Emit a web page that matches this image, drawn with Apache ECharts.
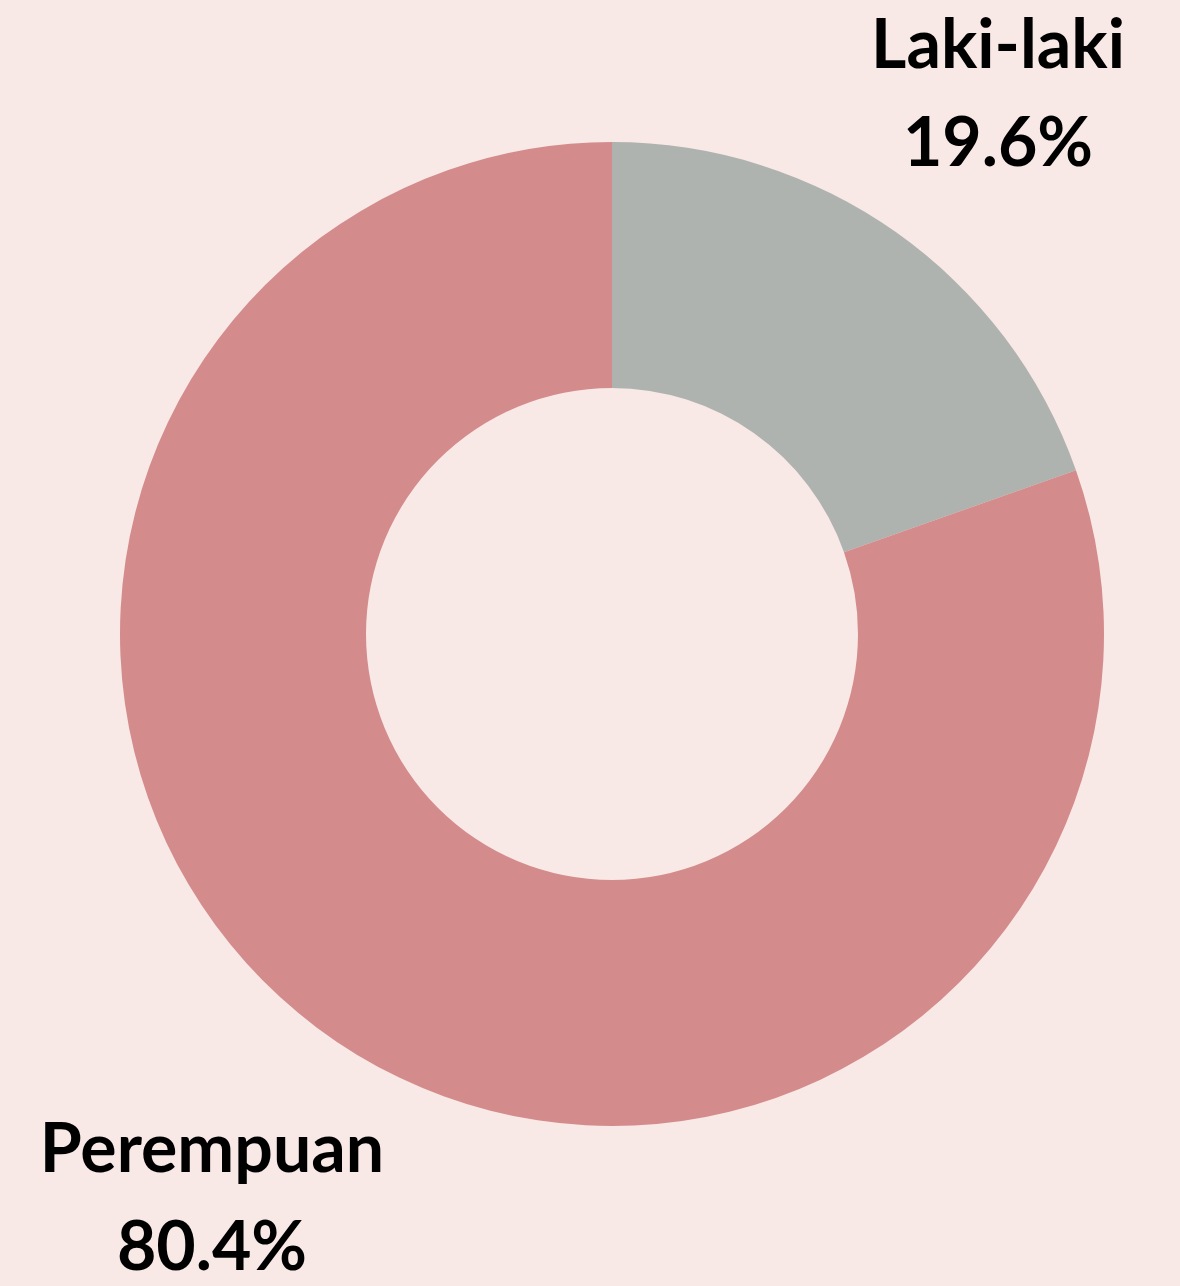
<!DOCTYPE html>
<html>
<head>
<meta charset="utf-8">
<style>
html,body{margin:0;padding:0;background:#f8e8e6;}
#chart{width:1180px;height:1286px;}
</style>
<script src="https://cdn.jsdelivr.net/npm/echarts@6/dist/echarts.min.js"></script>
</head>
<body>
<div id="chart"></div>
<script>
var categories = ['Laki-laki', 'Perempuan'];
var values = [19.6, 80.4];
var colors = ['#aeb3b0', '#d48b8b'];

var chart = echarts.init(document.getElementById('chart'));
var labelPos = [[998, 95], [212, 1199]];
chart.setOption({
  backgroundColor: '#f8e8e6',
  animation: false,
  series: [{
    type: 'pie',
    center: [612, 634],
    radius: [246, 492],
    startAngle: 90,
    clockwise: true,
    silent: true,
    data: categories.map(function (c, i) {
      return { name: c, value: values[i], itemStyle: { color: colors[i] } };
    }),
    label: {
      show: true,
      position: 'outside',
      alignTo: 'none',
      overflow: 'none',
      formatter: function (p) { return p.name + '\n' + p.value.toFixed(1) + '%'; },
      fontFamily: 'Lato, "Noto Sans", sans-serif',
      fontWeight: 'bold',
      fontSize: 68,
      lineHeight: 98,
      color: '#000',
      align: 'center',
      verticalAlign: 'middle'
    },
    labelLine: { show: false },
    labelLayout: function (params) {
      var p = labelPos[params.dataIndex];
      return { x: p[0], y: p[1], align: 'center', verticalAlign: 'middle', width: 600 };
    }
  }]
});
</script>
</body>
</html>
